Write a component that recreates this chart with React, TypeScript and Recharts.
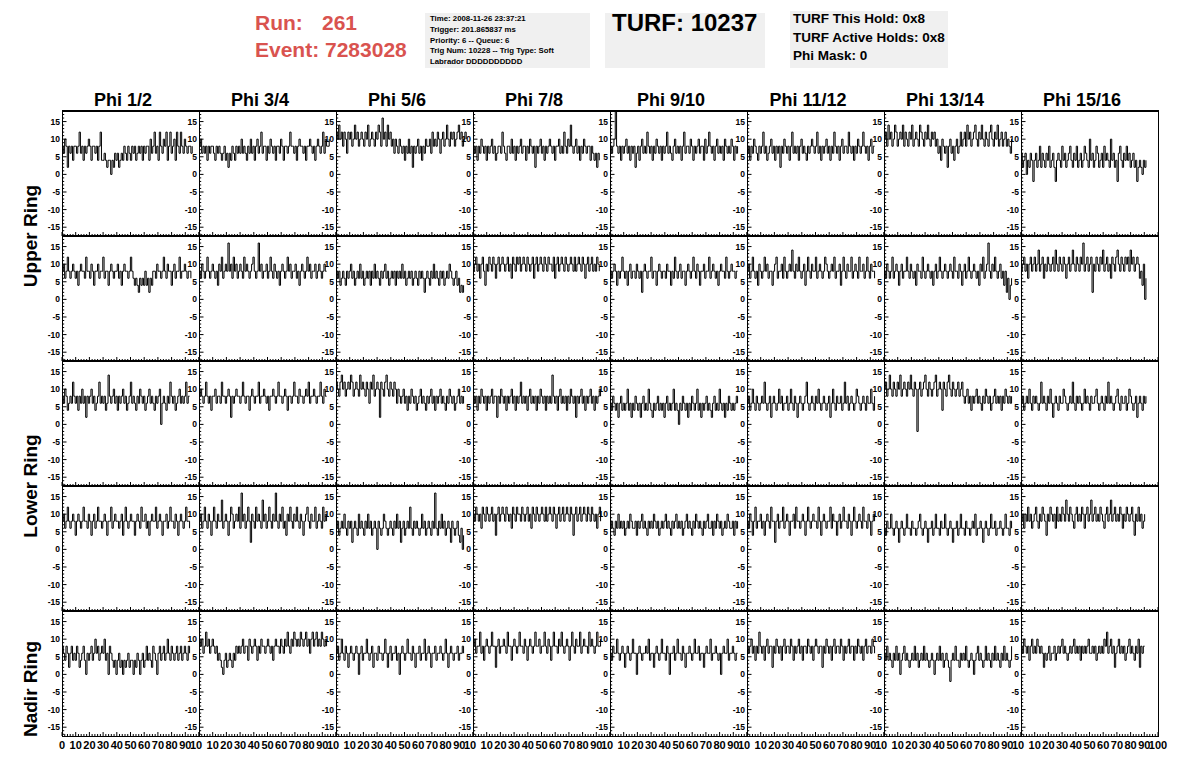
import React from "react";
import { LineChart, Line, XAxis, YAxis } from "recharts";

// ---------- categories / labels ----------
const phiLabels = ["Phi 1/2", "Phi 3/4", "Phi 5/6", "Phi 7/8", "Phi 9/10", "Phi 11/12", "Phi 13/14", "Phi 15/16"];
const ringLabels = ["Upper Ring", "Lower Ring", "Nadir Ring"];
const infoLines = [
  "Time: 2008-11-26 23:37:21",
  "Trigger: 201.865837 ms",
  "Priority: 6 -- Queue: 6",
  "Trig Num: 10228 -- Trig Type: Soft",
  "Labrador DDDDDDDDDD",
];
const turfLines = ["TURF This Hold: 0x8", "TURF Active Holds: 0x8", "Phi Mask: 0"];
const runNumber = "261";
const eventNumber = "7283028";
const turfNumber = "10237";

const yMajor = [-15, -10, -5, 0, 5, 10, 15];
const xMajor = [0, 10, 20, 30, 40, 50, 60, 70, 80, 90, 100];
const SAMPLE_NS = 0.96;

// ---------- waveform samples, one array per panel ----------
const r1c1 = [8,6,10,8,2,8,6,8,4,8, 8,6,8,12,6,8,4,8,6,8, 10,8,4,8,8,6,8,4,8,12, 4,4,6,4,2,4,4,0,4,2, 6,4,6,2,4,6,4,8,6,4, 8,6,4,8,6,8,4,6,8,6, 8,4,8,6,8,8,4,10,6,8, 12,6,8,4,12,8,6,10,8,12, 4,8,12,6,8,10,4,12,8,6, 12,8,6,10,8,6,8,8,6,8];
const r1c2 = [8,10,6,8,6,8,4,8,6,8, 8,6,4,8,6,8,6,4,6,8, 4,6,2,6,4,8,6,4,8,6, 8,6,10,6,8,6,4,8,6,10, 6,8,4,8,10,6,8,12,6,8, 8,4,8,6,10,8,6,8,4,8, 8,6,10,8,4,8,8,6,8,12, 8,8,6,8,4,8,10,8,8,6, 8,4,8,8,10,8,6,8,4,8, 10,8,6,8,12,6,10,8,8,10];
const r1c3 = [12,10,14,10,12,8,12,10,6,12, 10,12,8,10,14,10,12,8,10,12, 10,8,12,10,14,8,10,12,10,8, 12,10,14,12,8,16,10,12,8,14, 10,12,8,10,6,10,8,6,10,8, 6,8,4,8,6,10,6,8,2,8, 6,8,10,6,8,4,8,6,10,8, 8,10,6,12,8,10,8,12,10,6, 10,12,8,10,14,10,8,12,10,12, 8,10,12,14,10,12,8,10,12,10];
const r1c4 = [8,6,8,4,8,6,10,8,6,8, 4,8,6,8,10,6,8,4,6,8, 8,6,12,8,6,4,8,8,6,10, 6,8,4,8,6,8,10,6,8,8, 4,8,6,10,8,6,8,2,8,6, 8,10,6,8,4,8,6,8,10,8, 6,8,4,8,8,10,6,8,6,12, 8,6,10,8,14,8,6,8,10,6, 8,4,8,6,10,8,6,8,8,4, 8,6,4,6,2,6,4];
const r1c5 = [8,6,8,10,18,8,6,8,4,8, 6,8,10,6,8,4,8,6,8,2, 6,8,4,8,10,6,8,6,12,8, 6,8,4,8,6,10,8,6,8,4, 8,6,8,12,6,8,6,4,8,10, 6,8,6,8,4,8,12,6,8,8, 6,10,8,4,8,6,8,10,6,8, 8,4,10,6,8,12,8,6,8,4, 8,10,6,8,6,8,4,10,8,6, 8,6,10,8,4,8,6,8];
const r1c6 = [6,8,4,8,6,10,8,6,4,8, 6,8,12,6,8,4,6,8,10,6, 8,4,8,6,8,2,8,6,10,8, 6,8,4,8,12,6,8,6,8,4, 8,10,6,8,6,4,8,6,8,10, 8,6,8,12,6,8,4,8,6,8, 10,6,8,4,8,6,12,8,6,8, 4,8,10,6,8,8,6,12,8,6, 8,4,8,6,10,8,6,8,12,8, 6,8,4,8,10,6,8,8];
const r1c7 = [10,12,8,14,10,12,8,10,14,12, 8,10,12,10,14,8,12,10,8,12, 10,14,8,10,12,10,8,14,12,10, 8,12,10,14,10,8,12,10,12,8, 10,6,8,4,10,8,6,8,2,8, 10,6,8,4,8,10,6,8,12,8, 10,12,8,14,10,12,8,10,12,14, 10,8,12,10,14,10,8,12,10,8, 12,14,10,8,12,10,14,8,10,12, 8,10,12,8,10,8,6,10];
const r1c8 = [6,2,4,6,0,4,2,6,4,-2, 4,6,2,4,8,2,6,4,2,6, 4,8,2,4,6,2,-2,4,6,4, 2,8,4,6,2,4,6,8,4,2, 6,4,8,2,4,6,2,4,8,6, 4,2,10,4,6,2,4,8,6,2, 4,6,2,8,4,6,4,2,10,4, 6,2,4,-2,6,8,4,2,6,4, 8,4,6,2,4,6,2,4,-2,2, 4,2,0,4,2,4];

const r2c1 = [8,10,6,8,12,8,6,8,10,8, 6,8,4,8,10,8,8,6,12,8, 8,6,10,8,4,8,8,10,6,8, 8,12,6,8,8,4,8,10,8,6, 8,8,10,6,8,4,8,10,8,8, 6,8,12,8,6,4,6,4,2,6, 4,6,4,8,4,6,2,6,4,8, 8,6,10,8,8,6,8,12,8,6, 10,8,8,4,8,10,6,8,8,12, 6,8,8,10,8,6,8,8,6];
const r2c2 = [8,6,10,8,6,8,12,8,6,8, 10,8,6,8,4,10,8,12,6,8, 10,8,16,8,10,6,12,8,10,6, 8,10,8,6,12,8,10,8,6,8, 10,12,8,6,8,16,8,10,6,8, 8,10,6,8,12,8,6,10,8,6, 8,4,8,10,8,6,8,12,8,10, 6,8,8,10,6,8,4,8,10,8, 6,8,12,8,10,6,8,8,10,6, 8,10,8,6,8,10,8,8];
const r2c3 = [8,6,8,4,6,8,6,4,8,6, 8,10,6,8,4,6,8,6,10,6, 8,4,6,8,6,8,4,8,6,10, 6,8,6,4,8,6,8,10,6,8, 4,6,8,6,8,4,8,6,8,6, 10,6,8,4,6,8,6,8,4,6, 8,6,4,8,6,8,6,2,6,8, 6,4,8,6,10,6,8,6,4,8, 6,8,4,6,8,6,10,8,6,4, 6,8,4,6,2,4,2,4];
const r2c4 = [8,10,12,8,10,6,10,12,8,4, 10,8,12,10,8,12,10,6,10,12, 8,10,12,10,8,10,12,8,10,6, 12,10,8,12,10,12,8,10,12,10, 8,12,10,8,10,12,6,10,12,8, 10,12,10,8,12,10,8,12,10,10, 8,12,6,10,12,8,10,12,10,8, 12,10,8,10,12,10,8,12,8,10, 12,10,8,12,10,6,10,12,8,10, 12,8,10,8,12,10,8];
const r2c5 = [8,6,8,10,8,4,8,6,8,12, 8,6,8,4,8,10,6,8,8,6, 10,8,6,8,2,8,10,8,6,8, 8,12,6,8,8,4,8,10,8,6, 8,8,6,10,8,8,4,8,6,12, 8,6,8,10,6,8,8,4,8,10, 8,6,8,12,8,6,10,8,4,8, 8,10,6,8,8,12,6,8,10,8, 6,8,4,8,10,8,8,6,12,8, 6,8,10,8,8,6,8,8];
const r2c6 = [8,10,6,8,12,8,6,8,4,10, 8,6,8,12,8,10,6,8,8,4, 8,10,12,6,8,8,10,6,12,8, 6,8,10,8,14,8,6,10,8,12, 8,6,8,10,4,8,12,8,6,10, 8,8,12,6,8,10,8,6,8,12, 10,8,6,8,10,8,12,6,8,8, 10,4,8,12,8,6,10,8,8,12, 6,8,10,8,6,12,8,8,10,6, 8,12,8,6,10,8,8,6];
const r2c7 = [8,6,10,8,6,8,12,6,8,10, 8,4,8,10,6,8,8,12,8,6, 10,8,6,8,4,10,8,8,6,12, 8,6,8,10,8,6,8,4,8,10, 6,8,12,8,6,8,10,8,6,8, 10,8,6,12,8,8,6,10,8,4, 8,10,6,8,12,8,6,8,10,8, 6,8,4,10,8,12,6,8,10,16, 8,6,10,8,12,8,6,8,10,6, 8,4,8,2,6,0,4,6];
const r2c8 = [8,10,12,8,10,6,10,12,8,10, 12,8,10,14,8,10,12,6,10,8, 12,10,8,10,12,8,14,10,8,12, 10,8,12,10,6,10,12,8,10,14, 10,8,12,10,8,12,10,16,8,10, 12,8,10,12,2,10,8,12,10,8, 12,10,14,8,10,12,8,10,6,12, 10,8,12,14,10,8,12,10,8,12, 10,12,8,14,10,12,8,10,12,10, 6,8,4,10,0,6];

const r3c1 = [8,6,10,8,4,6,8,6,12,8, 6,8,4,8,6,10,6,8,2,8, 6,8,10,6,8,4,6,8,12,6, 8,6,8,4,6,14,8,6,8,10, 6,8,4,8,6,8,10,6,8,4, 6,8,12,6,8,6,4,8,6,10, 8,6,8,4,6,8,10,6,8,6, 4,8,6,8,10,0,6,8,6,4, 8,6,12,8,6,8,4,6,8,10, 6,8,6,8,12,6,8,8];
const r3c2 = [8,10,8,6,8,12,8,6,8,4, 8,8,10,6,8,8,6,12,8,8, 6,8,10,8,2,8,6,8,10,8, 8,6,8,12,8,6,8,8,4,8, 10,8,6,8,8,12,6,8,8,10, 8,6,8,4,8,8,10,8,6,8, 12,8,8,6,8,10,8,4,8,8, 6,8,12,8,8,6,10,8,8,6, 8,10,8,12,6,8,8,10,8,6, 8,8,12,8,6,10,8,8];
const r3c3 = [12,10,8,12,14,10,12,8,10,12, 10,14,12,8,10,12,10,8,14,10, 12,10,8,12,10,6,12,10,14,8, 10,12,10,2,12,10,8,12,14,10, 8,12,10,8,12,10,6,10,8,6, 8,10,6,8,4,8,6,10,8,6, 8,4,6,8,10,6,8,6,4,8, 6,8,10,6,8,4,8,6,8,10, 6,8,6,4,8,6,10,8,6,8, 4,6,8,10,6,8,6,8];
const r3c4 = [8,6,8,4,8,6,10,8,6,8, 4,8,6,8,10,6,8,8,2,8, 6,10,8,6,8,4,8,6,8,10, 6,8,4,8,6,8,12,6,8,6, 8,4,8,10,6,8,6,8,4,8, 6,10,8,6,8,4,8,6,8,6, 14,8,6,8,4,8,10,6,8,6, 8,4,8,6,10,8,6,8,2,8, 6,8,10,6,8,4,8,6,8,10, 6,8,4,8,6,8,10,8];
const r3c5 = [6,4,8,6,4,6,2,6,8,4, 6,4,6,10,4,6,2,6,4,8, 6,4,6,2,6,8,4,6,4,10, 6,4,2,6,4,6,8,4,6,4, 6,2,6,8,4,6,4,6,10,4, 6,4,0,6,4,8,6,4,6,2, 6,4,8,6,4,6,10,4,6,2, 6,4,6,8,4,6,4,2,6,8, 4,6,4,10,6,4,6,2,6,4, 8,6,4,6,4,6,8,6];
const r3c6 = [6,8,4,6,10,6,4,8,6,4, 6,8,6,12,6,4,6,8,2,6, 8,6,4,6,10,6,8,4,6,6, 8,4,6,10,6,4,8,6,2,6, 8,6,4,6,8,12,6,4,6,8, 6,4,8,6,10,6,4,6,8,6, 4,6,8,2,6,10,6,4,8,6, 6,8,4,6,12,6,8,4,6,8, 6,4,6,10,8,6,4,6,8,6, 4,8,6,6,10,6,4,8];
const r3c7 = [10,12,8,10,14,10,8,12,10,8, 12,10,14,8,10,12,10,8,12,10, 14,10,8,12,10,-2,10,12,8,10, 12,14,10,8,12,10,8,10,12,14, 8,10,12,10,4,12,10,8,12,14, 10,8,12,10,8,10,12,8,10,12, 8,6,8,10,6,8,4,8,6,8, 10,6,8,6,4,8,6,10,8,6, 8,4,6,8,10,6,8,6,8,4, 8,6,10,8,6,8,6,8];
const r3c8 = [6,8,4,6,8,6,10,6,4,8, 6,8,6,4,6,12,6,8,6,4, 8,6,10,6,2,6,8,6,4,8, 6,6,10,8,6,4,6,8,6,12, 6,4,8,6,8,6,4,6,10,6, 8,6,4,8,6,6,8,10,6,4, 6,8,6,4,8,6,12,6,8,6, 4,6,8,10,6,4,8,6,6,8, 4,6,10,8,6,4,6,8,2,6, 8,6,4,8,6,8];

const r4c1 = [8,10,6,8,12,8,6,8,10,8, 4,8,10,8,6,8,12,8,8,6, 10,8,4,8,10,6,8,12,8,8, 6,8,10,8,4,8,8,12,6,8, 10,8,8,6,8,10,4,8,12,8, 6,8,10,8,8,4,8,10,8,6, 12,8,8,10,6,8,4,8,10,8, 8,12,6,8,10,8,4,8,8,10, 6,8,12,8,8,6,10,8,4,8, 10,8,6,8,12,8,8,6];
const r4c2 = [8,10,6,8,12,8,6,10,8,4, 8,12,8,6,10,8,8,14,6,8, 10,8,4,8,12,10,6,8,10,8, 12,6,16,8,10,6,8,12,8,2, 10,8,6,12,8,10,8,6,14,8, 10,6,8,12,8,6,10,8,16,8, 6,10,8,12,6,8,4,10,8,12, 8,6,10,8,12,8,6,10,8,4, 8,10,12,8,6,10,8,8,12,6, 8,10,8,6,12,8,10,8];
const r4c3 = [6,8,4,6,8,6,10,6,4,8, 6,8,2,6,8,6,4,10,6,8, 6,4,8,6,10,6,8,4,6,8, 6,0,8,6,4,6,10,8,6,4, 6,8,6,4,8,6,10,6,8,2, 6,8,4,6,8,6,12,6,4,8, 6,8,6,4,6,10,6,8,4,6, 8,6,4,8,6,16,6,4,8,6, 10,6,8,4,6,8,6,2,8,6, 4,6,8,4,2,6,0,4];
const r4c4 = [10,8,12,10,8,10,6,12,10,8, 12,10,8,10,12,8,10,4,10,12, 8,10,12,10,8,12,10,8,10,6, 12,10,8,12,10,10,8,12,10,8, 10,12,8,10,6,12,10,8,12,10, 8,10,12,10,8,12,8,10,12,10, 8,12,10,6,10,12,8,10,12,8, 10,12,10,8,12,10,4,10,12,8, 10,12,8,10,12,10,8,12,10,8, 12,10,8,10,6,10,12,8];
const r4c5 = [6,8,6,4,8,6,10,6,8,6, 8,4,6,8,6,10,8,6,6,8, 4,8,6,8,10,6,8,6,4,8, 6,8,6,10,8,6,8,4,6,8, 6,8,10,6,8,6,4,8,6,8, 10,6,8,6,8,4,6,8,10,6, 8,6,4,8,6,10,8,6,8,6, 4,8,6,8,10,6,6,8,4,8, 6,10,8,6,8,4,6,8,6,10, 8,6,6,8,4,8,6,8];
const r4c6 = [8,6,10,8,4,8,12,6,8,8, 10,6,8,4,8,10,8,6,12,8, 8,2,8,10,6,8,8,12,6,8, 10,8,4,8,8,10,6,12,8,8, 6,8,10,8,4,8,12,8,6,8, 10,8,8,6,12,8,4,8,10,8, 6,8,8,12,6,10,8,8,4,8, 10,6,8,12,8,8,6,10,8,4, 8,12,8,6,8,10,8,6,12,8, 8,6,10,8,4,8,10,8];
const r4c7 = [6,4,8,6,6,10,6,4,6,8, 6,2,6,8,6,4,6,10,6,6, 4,8,6,6,4,6,8,10,6,4, 6,8,6,2,6,6,8,4,6,10, 6,6,4,8,6,6,10,6,4,6, 8,6,2,6,6,8,4,6,10,6, 6,4,8,6,6,4,6,8,6,10, 4,6,6,8,6,2,6,8,6,4, 6,10,6,6,8,4,6,6,8,6, 4,6,10,6,6,4,8,6];
const r4c8 = [8,10,6,10,8,12,8,10,6,8, 10,12,8,6,10,8,12,10,8,4, 10,8,12,10,8,10,6,12,8,10, 8,12,10,8,14,10,8,12,10,8, 6,10,12,8,10,8,12,10,6,10, 12,8,10,14,8,10,12,8,10,8, 12,10,8,6,10,12,8,10,14,8, 10,12,8,10,8,12,10,6,10,8, 12,10,8,10,12,8,4,10,8,12, 8,10,6,8,10];

const r5c1 = [8,6,4,8,6,2,6,8,4,6, 4,8,6,2,4,6,8,4,0,6, 4,6,8,4,6,10,6,8,4,6, 8,6,10,4,6,0,8,6,4,2, 4,0,4,6,2,4,0,4,2,4, 6,2,4,4,0,4,2,6,4,0, 4,6,2,4,8,4,6,4,2,8, 6,4,0,6,8,4,6,8,4,6, 10,6,4,8,6,4,6,8,4,6, 8,4,6,8,6,4,8,6];
const r5c2 = [10,8,10,6,8,12,8,10,6,8, 10,8,6,8,4,6,4,2,0,4, 6,2,4,6,4,2,6,4,8,6, 8,6,8,10,6,8,8,4,10,8, 6,8,10,8,4,8,6,10,8,8, 6,8,10,8,6,8,4,8,10,8, 8,6,10,8,6,10,8,12,8,6, 10,8,12,10,8,10,8,12,10,8, 10,12,8,10,6,10,12,8,10,12, 8,10,8,12,10,8,10,8];
const r5c3 = [6,8,4,6,10,6,4,8,6,2, 6,8,6,4,6,8,6,0,6,8, 4,6,6,10,6,4,6,8,2,6, 6,4,8,6,6,4,6,10,6,2, 6,8,4,6,6,8,4,6,0,6, 8,6,4,6,10,6,6,4,8,6, 2,6,6,8,4,6,6,10,4,6, 8,6,2,6,6,8,4,6,6,8, 6,4,6,10,6,2,6,8,6,4, 6,6,8,4,6,6,8,6];
const r5c4 = [8,10,6,8,8,12,6,8,4,8, 10,8,6,8,12,8,8,2,8,10, 6,8,8,10,8,6,12,8,8,4, 8,10,8,6,8,12,8,8,6,10, 8,4,8,10,8,6,8,12,8,8, 10,6,8,8,12,8,6,10,8,4, 8,12,8,8,6,10,8,12,8,6, 8,10,8,4,8,12,8,6,10,8, 8,12,6,8,10,8,8,6,12,8, 10,8,6,8,12,8,8,10];
const r5c5 = [6,4,8,6,6,10,6,4,6,8, 6,2,6,8,6,4,6,10,6,6, 0,6,8,6,4,6,6,8,6,10, 4,6,6,2,6,8,6,4,6,10, 6,6,4,8,6,0,6,6,8,4, 6,10,6,6,4,8,6,2,6,6, 8,6,4,6,10,6,6,8,4,6, 6,2,6,8,6,6,10,4,6,6, 8,6,4,6,0,6,8,6,6,10, 4,6,6,8,6,4,6,6];
const r5c6 = [8,6,8,10,6,8,4,8,6,12, 8,6,8,4,8,10,6,8,8,2, 8,6,10,8,6,8,4,8,10,6, 8,8,6,10,8,4,8,6,8,10, 6,8,4,8,8,6,10,8,6,8, 4,8,10,8,6,8,8,2,8,6, 10,8,6,8,4,8,10,6,8,8, 6,10,8,4,8,6,8,10,6,8, 8,4,8,6,10,8,6,8,4,8, 10,6,8,8,6,10,8,6];
const r5c7 = [6,4,8,4,6,4,2,6,4,8, 4,6,0,4,6,8,4,6,4,2, 4,6,4,8,4,6,2,4,6,4, 8,4,6,4,2,4,6,4,0,4, 6,4,8,4,6,2,4,6,4,2, -2,4,6,4,8,4,4,2,6,4, 6,4,8,4,2,4,6,4,0,4, 6,8,4,6,4,2,4,8,4,6, 4,2,6,4,8,4,6,4,2,6, 4,8,4,6,4,2,4,8];
const r5c8 = [8,6,10,8,6,8,4,8,10,6, 8,6,10,8,6,8,6,2,6,4, 6,8,4,6,6,8,4,6,8,6, 8,10,6,8,6,4,6,8,6,8, 10,6,8,6,8,4,8,6,8,6, 8,10,6,6,8,6,8,4,6,8, 6,8,6,10,8,12,6,8,10,6, 8,2,6,8,10,6,8,6,8,4, 6,8,10,6,8,6,4,8,6,10, 2,8,6,8,8];

const panelRows = [
  [r1c1, r1c2, r1c3, r1c4, r1c5, r1c6, r1c7, r1c8],
  [r2c1, r2c2, r2c3, r2c4, r2c5, r2c6, r2c7, r2c8],
  [r3c1, r3c2, r3c3, r3c4, r3c5, r3c6, r3c7, r3c8],
  [r4c1, r4c2, r4c3, r4c4, r4c5, r4c6, r4c7, r4c8],
  [r5c1, r5c2, r5c3, r5c4, r5c5, r5c6, r5c7, r5c8],
];

// ---------- layout ----------
const FONT = '"Liberation Sans", Arial, Helvetica, sans-serif';
const RED = "#d9534f";
const X0 = 62;
const CW = 137;
const Y0 = 111;
const RH = 125;
const GUT = 30;
const RPAD = 12;
const XH = 18;
const Y_DOMAIN: [number, number] = [-17.5, 18];

const yTicks: number[] = [];
for (let v = -17; v <= 17; v++) yTicks.push(v);
const xTicks: number[] = [];
for (let v = 0; v <= 100; v += 2) xTicks.push(v);

const toSeries = (vals: number[]) => vals.map((v, i) => ({ t: +(i * SAMPLE_NS).toFixed(2), v }));

function YTick(props: any) {
  const { x, y, payload } = props;
  const v = payload.value;
  const major = yMajor.includes(v);
  return (
    <g>
      <line x1={x} x2={x + (major ? 4.5 : 2.2)} y1={y} y2={y} stroke="#000" strokeWidth={1} />
      {major && (
        <text x={x - 2} y={y + 3} textAnchor="end" fontSize={8.5} fontWeight="bold" fontFamily={FONT} fill="#000">
          {v}
        </text>
      )}
    </g>
  );
}

function XTick(props: any) {
  const { x, y, payload, col, showLabels } = props;
  const v = payload.value;
  const major = xMajor.includes(v);
  let label: React.ReactNode = null;
  if (showLabels && major) {
    if (v === 0 && col > 0) label = null;
    else if (v === 100 && col < 7)
      label = (
        <text x={x - 9} y={y + 13} textAnchor="start" fontSize={11} fontWeight="bold" fontFamily={FONT} fill="#000">
          10
        </text>
      );
    else
      label = (
        <text x={x} y={y + 13} textAnchor="middle" fontSize={11} fontWeight="bold" fontFamily={FONT} fill="#000">
          {v}
        </text>
      );
  }
  return (
    <g>
      <line x1={x} x2={x} y1={y} y2={y - (major ? 4 : 2)} stroke="#000" strokeWidth={1} />
      {label}
    </g>
  );
}

function Panel({ vals, row, col }: { vals: number[]; row: number; col: number }) {
  const data = toSeries(vals);
  const last = row === panelRows.length - 1;
  return (
    <div style={{ position: "absolute", left: X0 + col * CW - GUT, top: Y0 + row * RH }}>
      <LineChart width={GUT + CW + RPAD} height={RH + XH} data={data} margin={{ top: 0, right: RPAD, bottom: 0, left: 0 }}>
        <XAxis
          dataKey="t"
          type="number"
          domain={[0, 100]}
          ticks={xTicks}
          interval={0}
          height={XH}
          tickSize={0}
          tickMargin={0}
          axisLine={false}
          tickLine={false}
          allowDataOverflow
          tick={(p: any) => <XTick {...p} col={col} showLabels={last} />}
        />
        <YAxis
          type="number"
          domain={Y_DOMAIN}
          ticks={yTicks}
          interval={0}
          width={GUT}
          tickSize={0}
          tickMargin={0}
          axisLine={false}
          tickLine={false}
          allowDataOverflow
          tick={(p: any) => <YTick {...p} />}
        />
        <Line
          dataKey="v"
          type="stepAfter"
          stroke="#000"
          strokeWidth={1}
          dot={false}
          isAnimationActive={false}
        />
      </LineChart>
    </div>
  );
}

export default function App() {
  const frames: React.ReactNode[] = [];
  panelRows.forEach((r, ri) =>
    r.forEach((_, ci) => {
      frames.push(
        <div
          key={`f${ri}-${ci}`}
          style={{
            position: "absolute",
            left: X0 + ci * CW,
            top: Y0 + ri * RH,
            width: CW + 1,
            height: RH + 1,
            border: "1px solid #000",
            boxSizing: "border-box",
          }}
        />
      );
    })
  );
  const rowLines = panelRows.map((_, ri) => (
    <div
      key={`rl${ri}`}
      style={{ position: "absolute", left: X0, top: Y0 + ri * RH - 1, width: CW * 8 + 1, height: 2, background: "#000" }}
    />
  ));

  const ringCenters = [Y0 + RH, Y0 + 3 * RH, 689];

  return (
    <div style={{ position: "absolute", left: 0, top: 0, width: 1196, height: 772, background: "#fff", overflow: "hidden" }}>
      <svg width={1196} height={772} style={{ position: "absolute", left: 0, top: 0 }}>
        <g fontFamily={FONT} fontWeight="bold">
          <text x={255} y={30} fontSize={21} fill={RED}>Run:</text>
          <text x={322} y={30} fontSize={21} fill={RED}>{runNumber}</text>
          <text x={255} y={57} fontSize={21} fill={RED}>{`Event: ${eventNumber}`}</text>

          <rect x={425} y={13} width={165} height={55} fill="#f0f0f0" />
          {infoLines.map((s, i) => (
            <text key={s} x={430} y={21 + i * 10.8} fontSize={7.8} fill="#000">{s}</text>
          ))}

          <rect x={605} y={13} width={160} height={55} fill="#f0f0f0" />
          <text x={612} y={31} fontSize={24} fill="#000">{`TURF: ${turfNumber}`}</text>

          <rect x={790} y={11} width={158} height={57} fill="#f0f0f0" />
          {turfLines.map((s, i) => (
            <text key={s} x={793} y={23 + i * 18.5} fontSize={13.5} fill="#000">{s}</text>
          ))}

          {phiLabels.map((s, i) => (
            <text key={s} x={X0 + i * CW + 61} y={106} fontSize={18} textAnchor="middle" fill="#000">{s}</text>
          ))}

          {ringLabels.map((s, i) => (
            <text
              key={s}
              x={0}
              y={0}
              fontSize={19}
              textAnchor="middle"
              fill="#000"
              transform={`translate(37, ${ringCenters[i]}) rotate(-90)`}
            >
              {s}
            </text>
          ))}
        </g>
      </svg>
      {frames}
      {rowLines}
      {panelRows.map((r, ri) => r.map((vals, ci) => <Panel key={`p${ri}-${ci}`} vals={vals} row={ri} col={ci} />))}
    </div>
  );
}
